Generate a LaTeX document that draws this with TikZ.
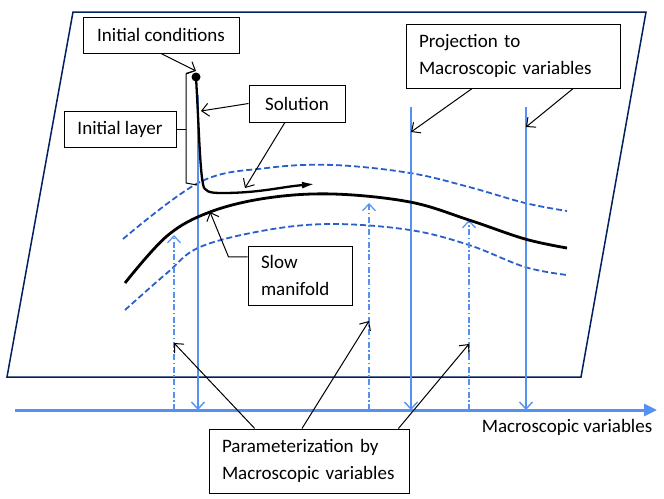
\documentclass[tikz,border=0pt]{standalone}
\usepackage{fontspec}
\setmainfont{Carlito}
\usetikzlibrary{arrows.meta, calc, positioning}

\definecolor{planeblue}{RGB}{0,32,96}
\definecolor{lightblue}{RGB}{85,145,240}
\definecolor{curveblue}{RGB}{40,95,205}

\begin{document}
\begin{tikzpicture}[x=1pt, y=-1pt,
    label box/.style={draw, rectangle, fill=white, line width=1pt, font=\fontsize{19}{27}\selectfont, inner sep=0pt},
    callout/.style={line width=1pt, -{Straight Barb[length=7pt,width=13pt]}},
    proj line/.style={lightblue, line width=1.4pt, -{Straight Barb[length=7pt,width=13pt]}},
    param line/.style={lightblue, line width=1.2pt, dash pattern=on 6pt off 2.5pt on 1.5pt off 2.5pt, -{Straight Barb[length=7pt,width=13pt]}},
    band/.style={curveblue, line width=1.8pt, dash pattern=on 6pt off 3pt},
]
    \useasboundingbox (0,0) rectangle (664,498);

    % State space plane
    \draw[planeblue, line width=1.5pt] (73,12) -- (646,12) -- (581,377) -- (7,377) -- cycle;

    % Neighbourhood of the slow manifold
    \draw[band] plot[smooth, tension=0.6] coordinates {(123,239) (200,182) (267,168) (333,165) (410,173) (469,187) (525,203) (567,211)};
    \draw[band] plot[smooth, tension=0.6] coordinates {(125,310) (167,273) (200,247) (267,230) (333,224) (410,230) (469,245) (525,267) (567,275)};

    % Named points on the curves
    \coordinate (ic) at (196,77);
    \coordinate (ictip) at (196,71);
    \coordinate (solA) at (201,111);
    \coordinate (solB) at (245,188);
    \coordinate (sm) at (210,212);
    \coordinate (brk) at (186,129);
    \coordinate (pA) at (411,132);
    \coordinate (pB) at (526,127);
    \coordinate (qA) at (174,343);
    \coordinate (qB) at (369,321);
    \coordinate (qC) at (469,344);

    % Projection lines
    \draw[proj line] (198,95) -- (198,410);
    \draw[proj line] (411,107) -- (411,410);
    \draw[proj line] (526,107) -- (526,410);

    % Parameterization lines
    \draw[param line] (174,410) -- (174,235);
    \draw[param line] (369,410) -- (369,203);
    \draw[param line] (469,410) -- (469,220);

    % Slow manifold
    \draw[line width=2.8pt] plot[smooth, tension=0.6] coordinates {(125,283) (167,236) (210,212) (267,198) (333,194) (410,202) (469,220) (525,239) (567,248)};

    % Solution
    \draw[line width=2.3pt, -{Latex[length=13pt,width=7pt]}] (ic) .. controls (199,130) and (200,170) .. (203,184) .. controls (204,192) and (210,193) .. (222,193) .. controls (260,193) and (280,187) .. (315,184);
    \fill (ic) circle[radius=4.5pt];

    % Initial layer bracket
    \draw[line width=1pt] (194,71) -- (186,74) -- (186,183) -- (197,185);

    % Macroscopic axis
    \draw[lightblue, line width=3pt, -{Triangle[length=13pt,width=12pt]}] (15,410) -- (657,410);
    \node[font=\fontsize{19}{27}\selectfont] (axislabel) at (567,427) {Macroscopic variables};

    % Labels
    \node[label box, minimum width=156pt, minimum height=36pt] (init) at (161,35) {Initial conditions};
    \node[label box, minimum width=96pt, minimum height=37pt] (sol) at (297,103.5) {Solution};
    \node[label box, minimum width=112pt, minimum height=36pt] (layer) at (120,129) {Initial layer};
    \node[label box, text width=188pt, inner xsep=13pt, minimum height=64pt, align=left] (proj) at (513,56) {Projection to\\Macroscopic variables};
    \node[label box, text width=78pt, inner xsep=13pt, minimum height=59pt, align=left] (slow) at (300,275.5) {Slow\\manifold};
    \node[label box, text width=174pt, inner xsep=13pt, minimum height=64pt, align=left] (param) at (309,461) {Parameterization by\\Macroscopic variables};

    % Callouts
    \draw[callout] (init.south) -- (ictip);
    \draw[callout] (sol.west) -- (solA);
    \draw[callout] ($(sol.south west)!0.375!(sol.south east)$) -- (solB);
    \draw[line width=1pt] (layer.east) -- (brk);
    \draw[callout] ($(slow.north west)!0.19!(slow.south west)$) -- ++(-19,0) -- (sm);
    \draw[callout] ($(proj.south west)!0.31!(proj.south east)$) -- (pA);
    \draw[callout] ($(proj.south west)!0.78!(proj.south east)$) -- (pB);
    \draw[callout] ($(param.north west)!0.23!(param.north east)$) -- (qA);
    \draw[callout] ($(param.north west)!0.465!(param.north east)$) -- (qB);
    \draw[callout] ($(param.north west)!0.945!(param.north east)$) -- (qC);

\end{tikzpicture}
\end{document}
